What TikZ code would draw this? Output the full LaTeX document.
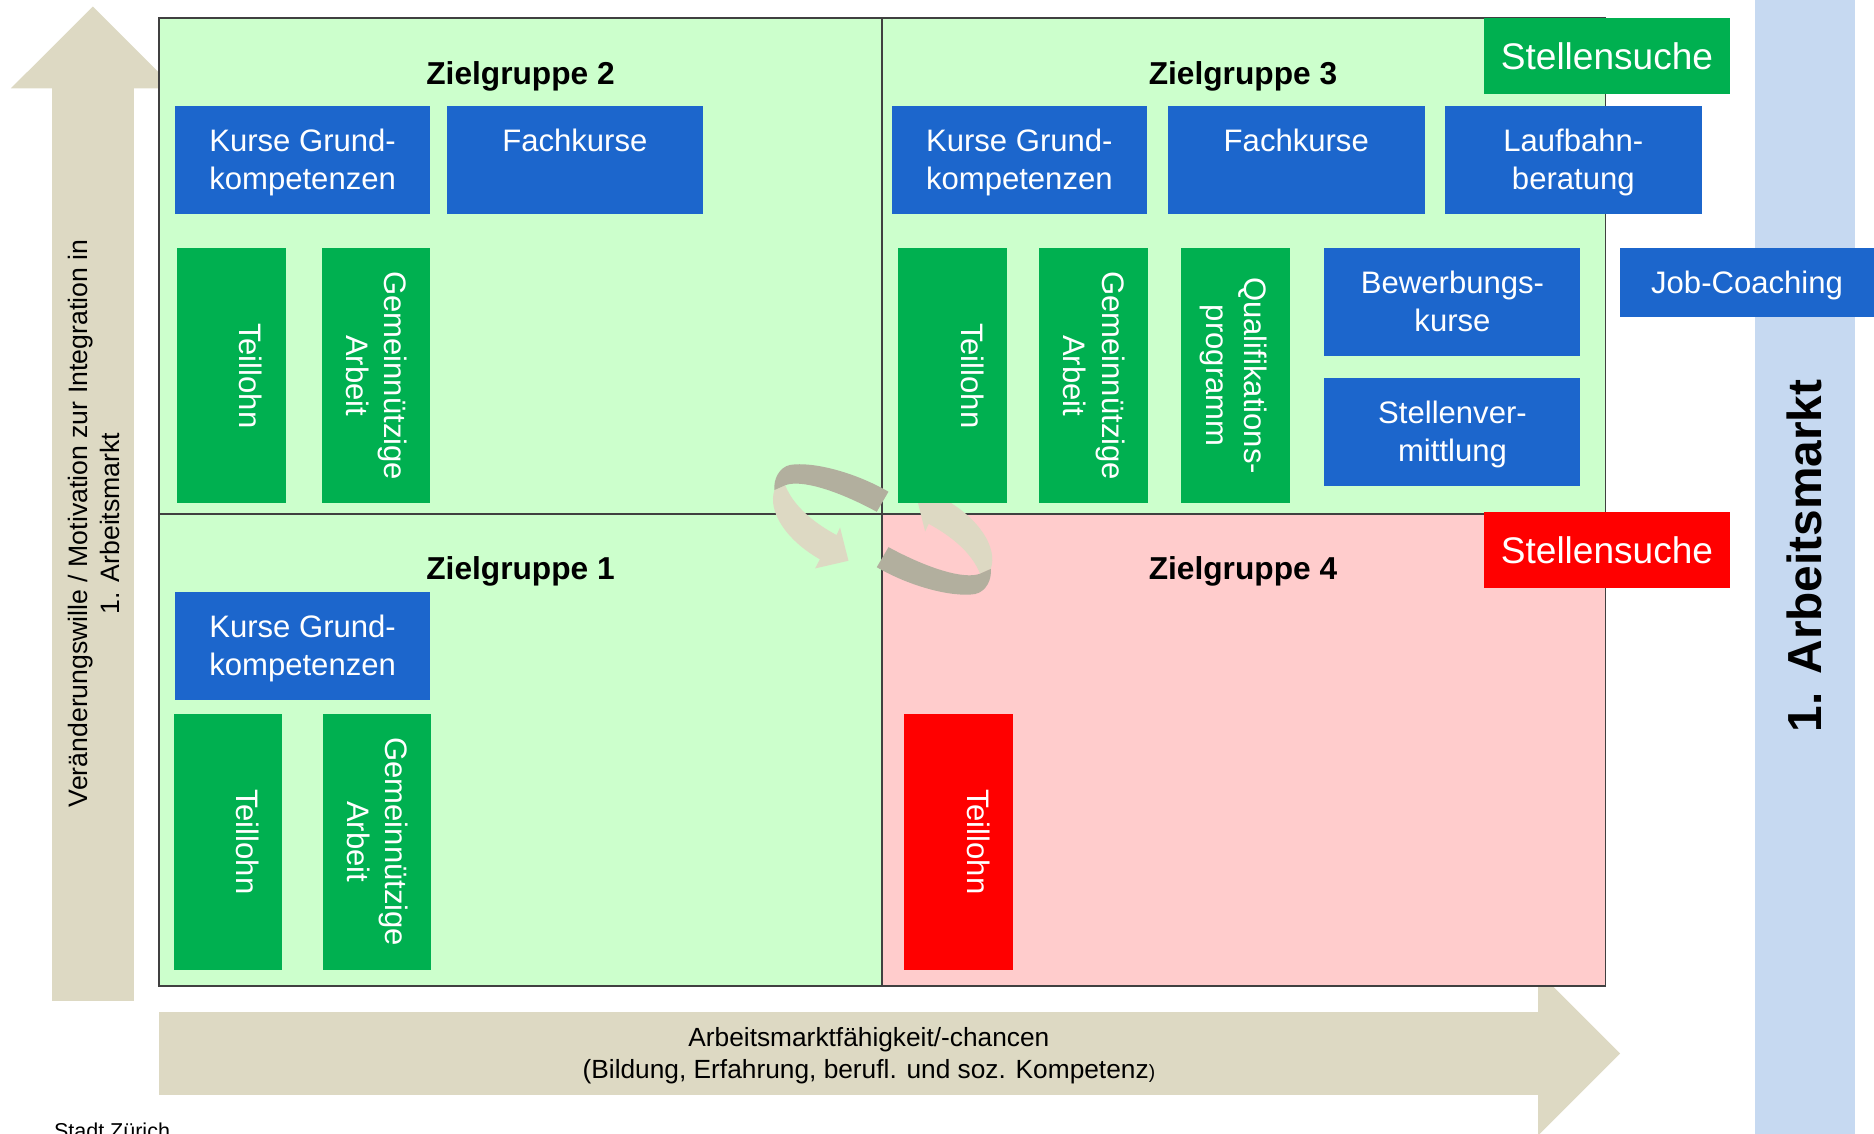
\documentclass[tikz,border=0pt]{standalone}
\usepackage{fontspec}
\setmainfont{Liberation Sans}
\definecolor{zblue}{RGB}{28,102,204}
\definecolor{zgreen}{RGB}{0,176,80}
\definecolor{zred}{RGB}{255,0,0}
\definecolor{ztan}{RGB}{221,217,195}
\definecolor{zdark}{RGB}{178,175,158}
\definecolor{zsky}{RGB}{198,217,241}
\definecolor{qgreen}{RGB}{204,255,204}
\definecolor{qpink}{RGB}{255,204,204}
\newcommand\zs{\rule[-7.2pt]{0pt}{32pt}}
\begin{document}
\begin{tikzpicture}[x=1pt,y=-1pt,
  wh/.style 2 args={minimum width=#1pt, minimum height=#2pt},
  box/.style={rectangle, inner sep=0pt, text=white, align=center, font=\fontsize{26}{32}\selectfont},
  bluebox/.style={box, fill=zblue},
  greenbox/.style={box, fill=zgreen},
  redbox/.style={box, fill=zred},
  vbox/.style={rotate=-90},
  title/.style={anchor=base, font=\fontsize{26.5}{32}\selectfont\bfseries},
  search/.style={rectangle, inner sep=0pt, text=white, font=\fontsize{31}{37}\selectfont, minimum width=205.7pt, minimum height=63.4pt},
  gridline/.style={draw=black!75, line width=1.2pt}
]
\useasboundingbox (0,0) rectangle (1568,948);
% axes arrows
\fill[ztan] (43.6,74) rectangle (111.8,837.7);
\fill[ztan] (9,74) -- (77.7,5.5) -- (146.4,74) -- cycle;
\fill[ztan] (133,847) rectangle (1287,916);
\fill[ztan] (1287,813) -- (1355.5,881.5) -- (1287,950) -- cycle;
% first labour market column
\fill[zsky] (1468,-1) rectangle (1552,949);
% quadrants
\fill[qgreen] (133,15) rectangle (1343.5,825);
\fill[qpink] (738,430) rectangle (1343.5,825);
\draw[gridline] (133,15) rectangle (1343.5,825);
\draw[gridline] (738,15) -- (738,825);
\draw[gridline] (133,430) -- (1343.5,430);
% circular arrows
\foreach \ang in {0,180}{
  \begin{scope}[rotate around={\ang:(738.5,443)}]
    \fill[ztan] (648,410) .. controls (642,428) and (658,452) .. (686,468) -- (682,475.6) -- (709.9,469.2) -- (702.9,441.3) -- (700,447.7) .. controls (682,438) and (664,424) .. (657,406) -- cycle;
    \fill[zdark] (743.4,411.4) .. controls (715,395) and (680,386) .. (661,389) .. controls (652,391) and (647,401) .. (648,410) -- (657,406) .. controls (670,401) and (700,410) .. (733.6,428.2) -- cycle;
  \end{scope}
}
% titles
\node[title] (z2) at (435.5,70.5) {Zielgruppe 2};
\node[title] (z3) at (1040,70.5) {Zielgruppe 3};
\node[title] (z1) at (435.5,484.5) {Zielgruppe 1};
\node[title] (z4) at (1040,484.5) {Zielgruppe 4};
% Zielgruppe 2
\node[bluebox, wh={213.6}{90.6}] (kg2) at (253.2,134.1) {\zs Kurse Grund-\\\zs kompetenzen};
\node[bluebox, wh={214}{90.6}] (fk2) at (481,134.1) {\zs Fachkurse\\\zs};
\node[greenbox, vbox, wh={213.3}{91}] (tl2) at (193.5,314.35) {\zs Teillohn\\\zs};
\node[greenbox, vbox, wh={213.3}{91}] (ga2) at (314.5,314.35) {\zs Gemeinnützige\\\zs Arbeit};
% Zielgruppe 3
\node[bluebox, wh={213.7}{90.6}] (kg3) at (852.9,134.1) {\zs Kurse Grund-\\\zs kompetenzen};
\node[bluebox, wh={214.8}{90.6}] (fk3) at (1084.6,134.1) {\zs Fachkurse\\\zs};
\node[bluebox, wh={214.8}{90.6}] (lb3) at (1316.4,134.1) {\zs Laufbahn-\\\zs beratung};
\node[greenbox, vbox, wh={213.3}{91.8}] (tl3) at (796.9,314.35) {\zs Teillohn\\\zs};
\node[greenbox, vbox, wh={213.3}{91.3}] (ga3) at (915,314.35) {\zs Gemeinnützige\\\zs Arbeit};
\node[greenbox, vbox, wh={213.3}{91.3}] (qp3) at (1034,314.35) {\zs Qualifikations-\\\zs programm};
\node[bluebox, wh={214.2}{90.3}] (bk3) at (1215.3,252.85) {\zs Bewerbungs-\\\zs kurse};
\node[bluebox, wh={214.2}{90.6}] (sv3) at (1215.3,361.6) {\zs Stellenver-\\\zs mittlung};
\node[search, fill=zgreen] (ss3) at (1344.55,46.85) {Stellensuche};
\node[bluebox, wh={212.5}{57.8}] (jc) at (1461.75,236.6) {\zs Job-Coaching};
% Zielgruppe 1
\node[bluebox, wh={213.6}{90.6}] (kg1) at (253.2,540.8) {\zs Kurse Grund-\\\zs kompetenzen};
\node[greenbox, vbox, wh={213.8}{90.8}] (tl1) at (190.8,704.3) {\zs Teillohn\\\zs};
\node[greenbox, vbox, wh={213.8}{90.7}] (ga1) at (315.65,704.3) {\zs Gemeinnützige\\\zs Arbeit};
% Zielgruppe 4
\node[search, fill=zred] (ss4) at (1344.55,460) {Stellensuche};
\node[redbox, vbox, wh={213.8}{91.8}] (tl4) at (801.9,704.3) {\zs Teillohn\\\zs};
% axis labels
\node[rotate=90, align=center, font=\fontsize{22.3}{27}\selectfont] (yl) at (78.5,438) {Veränderungswille / Motivation zur Integration in\\1. Arbeitsmarkt};
\node[align=center, font=\fontsize{22}{27}\selectfont] (xl) at (727,883.5) {Arbeitsmarktfähigkeit/-chancen\\(Bildung, Erfahrung, berufl. und soz. Kompetenz{\fontsize{16}{19}\selectfont)}};
\node[rotate=90, font=\fontsize{40}{48}\selectfont\bfseries] (am) at (1510,465) {1. Arbeitsmarkt};
\node[anchor=base west, inner sep=0pt, font=\fontsize{18}{22}\selectfont] (sz) at (45,952.5) {Stadt Zürich};
\end{tikzpicture}
\end{document}
